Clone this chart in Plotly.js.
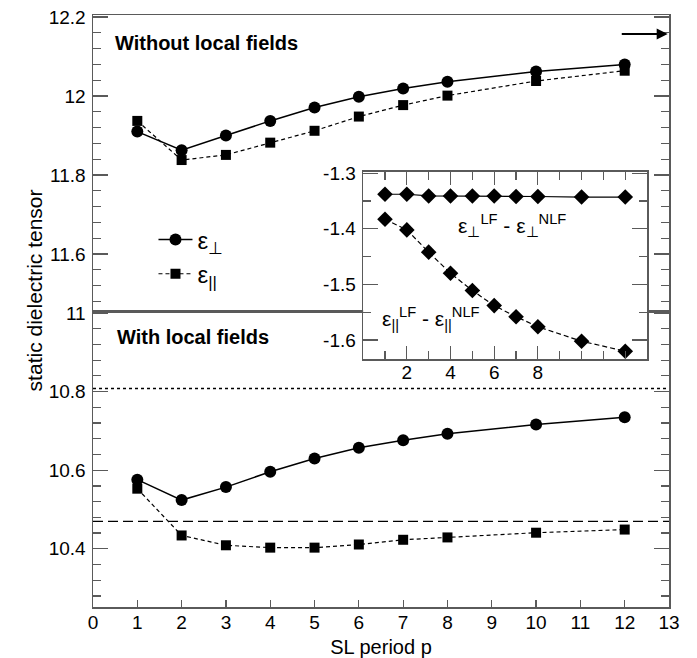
<!DOCTYPE html>
<html>
<head>
<meta charset="utf-8">
<script src="https://cdn.plot.ly/plotly-3.0.1.min.js"></script>
<style>html,body{margin:0;padding:0;background:#fff;}</style>
</head>
<body>
<div id="chart" style="width:697px;height:658px;"></div>
<script>
// ---- data ----
const period = [1, 2, 3, 4, 5, 6, 7, 8, 10, 12];
const epsPerpNoLF = [11.910, 11.863, 11.900, 11.937, 11.971, 11.998, 12.019, 12.036, 12.062, 12.080];
const epsParNoLF  = [11.937, 11.838, 11.851, 11.882, 11.912, 11.948, 11.977, 12.001, 12.038, 12.064];
const epsPerpLF   = [10.576, 10.524, 10.557, 10.596, 10.630, 10.657, 10.676, 10.693, 10.716, 10.735];
const epsParLF    = [10.553, 10.434, 10.409, 10.403, 10.403, 10.411, 10.423, 10.429, 10.441, 10.449];
const diffPerp    = [-1.338, -1.338, -1.341, -1.341, -1.341, -1.341, -1.342, -1.342, -1.343, -1.343];
const diffPar     = [-1.383, -1.402, -1.442, -1.480, -1.511, -1.538, -1.558, -1.576, -1.602, -1.620];
const bulkDotted = 10.808;
const bulkDashed = 10.470;
const insetXLabelVals = [2, 4, 6, 8];
const insetXExtraMajor = [10, 12];
const insetYTickVals = [-1.3, -1.4, -1.5, -1.6];
const insetYTickText = ['-1.3', '-1.4', '-1.5', '-1.6'];

const FONT = 'Liberation Sans, Arial, Helvetica, sans-serif';
const FRAME = '#5a5a5a';

const traces = [
  {x: period, y: epsPerpNoLF, xaxis: 'x2', yaxis: 'y2', mode: 'lines+markers', name: 'ε<sub>⊥</sub>',
   line: {color: '#000', width: 1.5}, marker: {symbol: 'circle', size: 12, color: '#000'}, showlegend: true},
  {x: period, y: epsParNoLF, xaxis: 'x2', yaxis: 'y2', mode: 'lines+markers', name: 'ε<sub>||</sub>',
   line: {color: '#000', width: 1.2, dash: '4px,3px'}, marker: {symbol: 'square', size: 10, color: '#000'}, showlegend: true},
  {x: period, y: epsPerpLF, xaxis: 'x', yaxis: 'y', mode: 'lines+markers',
   line: {color: '#000', width: 1.5}, marker: {symbol: 'circle', size: 12, color: '#000'}, showlegend: false},
  {x: period, y: epsParLF, xaxis: 'x', yaxis: 'y', mode: 'lines+markers',
   line: {color: '#000', width: 1.2, dash: '4px,3px'}, marker: {symbol: 'square', size: 10, color: '#000'}, showlegend: false},
  {x: period, y: diffPerp, xaxis: 'x3', yaxis: 'y3', mode: 'lines+markers',
   line: {color: '#000', width: 1.2}, marker: {symbol: 'diamond', size: 12, color: '#000'}, showlegend: false},
  {x: period, y: diffPar, xaxis: 'x3', yaxis: 'y3', mode: 'lines+markers',
   line: {color: '#000', width: 1.2, dash: '5px,3px'}, marker: {symbol: 'diamond', size: 12, color: '#000'}, showlegend: false}
];

const yMain = {
  ticks: 'inside', ticklen: 15, tickwidth: 1.2, tickcolor: FRAME, dtick: 0.2, tick0: 0,
  minor: {dtick: 0.04, ticklen: 8, tickcolor: FRAME, tickwidth: 1.2, ticks: 'inside'},
  showline: true, linecolor: FRAME, linewidth: 1.5, mirror: 'ticks', showgrid: false, zeroline: false,
  tickfont: {family: FONT, size: 19, color: '#000'}, ticklabelstandoff: 2
};

const layout = {
  width: 697, height: 658,
  margin: {l: 93, r: 28, t: 15, b: 51},
  paper_bgcolor: '#fff', plot_bgcolor: '#fff',
  font: {family: FONT, color: '#000'},
  showlegend: true,
  legend: {x: 0.105, y: 0.658, xanchor: 'left', yanchor: 'top', bgcolor: 'rgba(0,0,0,0)',
           font: {family: FONT, size: 24, color: '#000'}, tracegroupgap: 0, itemwidth: 34},
  xaxis: {domain: [0, 1], anchor: 'y', range: [0, 13], dtick: 1, tick0: 0,
          ticks: 'inside', ticklen: 7, tickwidth: 1.2, tickcolor: FRAME,
          showline: true, linecolor: FRAME, linewidth: 1.5, mirror: true, showgrid: false, zeroline: false,
          tickfont: {family: FONT, size: 19, color: '#000'}, ticklabelstandoff: -2,
          title: {text: 'SL period p', font: {family: FONT, size: 20, color: '#000'}, standoff: 8}},
  yaxis: Object.assign({}, yMain, {domain: [0, 0.5], anchor: 'x', range: [10.252, 11.005]}),
  xaxis2: {domain: [0, 1], anchor: 'y2', range: [0, 13], showticklabels: false, ticks: '',
           showline: true, linecolor: FRAME, linewidth: 1.5, mirror: true, showgrid: false, zeroline: false},
  yaxis2: Object.assign({}, yMain, {domain: [0.5, 1], anchor: 'x2', range: [11.456, 12.205]}),
  xaxis3: {domain: [0.469, 0.962], anchor: 'y3', range: [0, 13],
           tickmode: 'array', tickvals: insetXLabelVals,
           ticks: 'inside', ticklen: 13, tickwidth: 1.2, tickcolor: FRAME,
           minor: {dtick: 1, tick0: 0, ticklen: 8, tickcolor: FRAME, tickwidth: 1.2, ticks: 'inside'},
           showline: true, linecolor: FRAME, linewidth: 1.5, mirror: 'ticks', showgrid: false, zeroline: false,
           tickfont: {family: FONT, size: 19, color: '#000'}, ticklabelstandoff: -4},
  xaxis4: {overlaying: 'x3', anchor: 'y3', range: [0, 13], tickmode: 'array', tickvals: insetXExtraMajor,
           showticklabels: false, side: 'bottom',
           ticks: 'inside', ticklen: 13, tickwidth: 1.2, tickcolor: FRAME,
           showline: false, mirror: 'ticks', showgrid: false, zeroline: false},
  yaxis3: {domain: [0.4189, 0.7348], anchor: 'x3', range: [-1.634, -1.298],
           tickmode: 'array', tickvals: insetYTickVals, ticktext: insetYTickText,
           ticks: 'inside', ticklen: 15, tickwidth: 1.2, tickcolor: FRAME,
           minor: {dtick: 0.05, ticklen: 8, tickcolor: FRAME, tickwidth: 1.2, ticks: 'inside'},
           showline: true, linecolor: FRAME, linewidth: 1.5, mirror: 'ticks', showgrid: false, zeroline: false,
           tickfont: {family: FONT, size: 19, color: '#000'}, ticklabelstandoff: 2},
  shapes: [
    {type: 'line', xref: 'paper', x0: 0, x1: 1, yref: 'y', y0: bulkDotted, y1: bulkDotted,
     line: {color: '#000', width: 1.5, dash: 'dot'}},
    {type: 'line', xref: 'paper', x0: 0, x1: 1, yref: 'y', y0: bulkDashed, y1: bulkDashed,
     line: {color: '#000', width: 1.2, dash: '10px,5px'}}
  ],
  annotations: [
    {xref: 'x2', yref: 'y2', x: 0.45, y: 12.134, xanchor: 'left', yanchor: 'middle', showarrow: false,
     text: '<b>Without local fields</b>', font: {family: FONT, size: 20, color: '#000'}},
    {xref: 'x', yref: 'y', x: 0.5, y: 10.939, xanchor: 'left', yanchor: 'middle', showarrow: false,
     text: '<b>With local fields</b>', font: {family: FONT, size: 20, color: '#000'}},
    {xref: 'paper', yref: 'paper', x: -0.1, y: 0.5355, xanchor: 'center', yanchor: 'middle', showarrow: false,
     textangle: -90, text: 'static dielectric tensor', font: {family: FONT, size: 21, color: '#000'}},
    {xref: 'x3', yref: 'y3', x: 4.25, y: -1.395, xanchor: 'left', yanchor: 'middle', showarrow: false,
     text: 'ε<sub>⊥</sub><sup>LF</sup> - ε<sub>⊥</sub><sup>NLF</sup>', font: {family: FONT, size: 21, color: '#000'}},
    {xref: 'x3', yref: 'y3', x: 0.75, y: -1.562, xanchor: 'left', yanchor: 'middle', showarrow: false,
     text: 'ε<sub>||</sub><sup>LF</sup> - ε<sub>||</sub><sup>NLF</sup>', font: {family: FONT, size: 21, color: '#000'}},
    {xref: 'x2', yref: 'y2', x: 12.97, y: 12.157, axref: 'x2', ayref: 'y2', ax: 11.9, ay: 12.157,
     showarrow: true, arrowhead: 2, arrowsize: 1.1, arrowwidth: 2, arrowcolor: '#000', text: ''}
  ]
};

Plotly.newPlot('chart', traces, layout, {displayModeBar: false, staticPlot: true});
</script>
</body>
</html>
